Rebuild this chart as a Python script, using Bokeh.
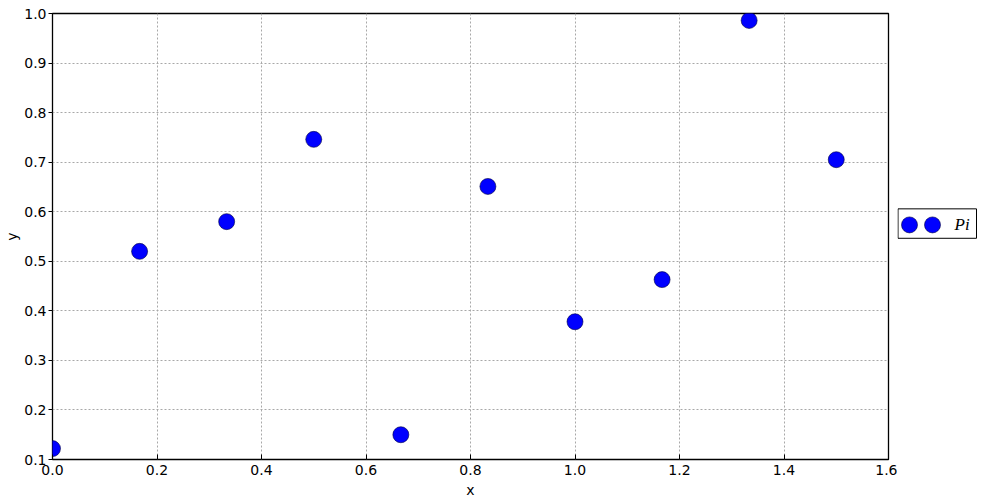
from bokeh.plotting import figure
from bokeh.layouts import row
from bokeh.models import Range1d, FixedTicker, NumeralTickFormatter
from bokeh.embed import file_html
from bokeh.resources import INLINE
from bokeh.core.properties import value

# ---- data ----
x_vals = [0.0, 0.1667, 0.3333, 0.5, 0.6667, 0.8333, 1.0, 1.1667, 1.3333, 1.5]
y_vals = [0.122, 0.520, 0.580, 0.746, 0.150, 0.651, 0.378, 0.463, 0.986, 0.705]
x_ticks = [0.0, 0.2, 0.4, 0.6, 0.8, 1.0, 1.2, 1.4, 1.6]
y_ticks = [0.1, 0.2, 0.3, 0.4, 0.5, 0.6, 0.7, 0.8, 0.9, 1.0]
series_label = "Pi"
x_label = "x"
y_label = "y"

FONT = "DejaVu Sans"
H = 500
MSIZE = 16

p = figure(width=897, height=H,
           x_range=Range1d(0.0, 1.6), y_range=Range1d(0.1, 1.0),
           output_backend="svg", toolbar_location=None,
           min_border_left=52, min_border_top=13, min_border_bottom=41,
           min_border_right=9)
p.outline_line_color = "black"
p.outline_line_width = 1.3
p.background_fill_color = "white"
p.border_fill_color = "white"

for g in (p.xgrid, p.ygrid):
    g.grid_line_color = "#a8a8a8"
    g.grid_line_dash = "2 2"
    g.grid_line_width = 1

p.xaxis.ticker = FixedTicker(ticks=x_ticks)
p.yaxis.ticker = FixedTicker(ticks=y_ticks)
p.xgrid.ticker = FixedTicker(ticks=x_ticks)
p.ygrid.ticker = FixedTicker(ticks=y_ticks)
p.xaxis.formatter = NumeralTickFormatter(format="0.0")
p.yaxis.formatter = NumeralTickFormatter(format="0.0")
p.xaxis.axis_label = x_label
p.yaxis.axis_label = y_label

for ax in (p.xaxis[0], p.yaxis[0]):
    ax.axis_line_color = None
    ax.minor_tick_line_color = None
    ax.major_tick_line_color = "black"
    ax.major_label_text_font = FONT
    ax.major_label_text_font_size = "14px"
    ax.major_label_text_color = "black"
    ax.axis_label_text_font = FONT
    ax.axis_label_text_font_size = "14px"
    ax.axis_label_text_font_style = "normal"
    ax.axis_label_text_color = "black"

p.yaxis.major_tick_out = 4
p.yaxis.major_tick_in = 0
p.yaxis.major_label_standoff = 2
p.yaxis.axis_label_standoff = 1
p.xaxis.major_tick_out = 0
p.xaxis.major_tick_in = 5
p.xaxis.major_label_standoff = 5
p.xaxis.axis_label_standoff = 4

p.scatter(x_vals, y_vals, size=MSIZE, marker="circle",
          fill_color="#0000ff", line_color="#000040", line_width=0.6)

# ---- legend (outside, right) ----
lg = figure(width=86, height=H, x_range=Range1d(0, 86), y_range=Range1d(0, H),
            output_backend="svg", toolbar_location=None,
            x_axis_type=None, y_axis_type=None, min_border=0)
lg.outline_line_color = None
lg.grid.visible = False
lg.quad(left=[0.5], right=[79], bottom=[H - 252], top=[H - 219],
        fill_color="white", line_color="black", line_width=1)
lg.scatter([12, 35], [H - 237, H - 237], size=MSIZE, marker="circle",
           fill_color="#0000ff", line_color="#000040", line_width=0.6)
lg.text([57], [H - 237], text=[series_label], text_font=value("Liberation Serif"),
        text_font_style="italic", text_font_size="17px",
        text_baseline="middle", text_align="left", text_color="black")

layout = row(p, lg, spacing=0)
open("out.html", "w").write(file_html(layout, INLINE))
